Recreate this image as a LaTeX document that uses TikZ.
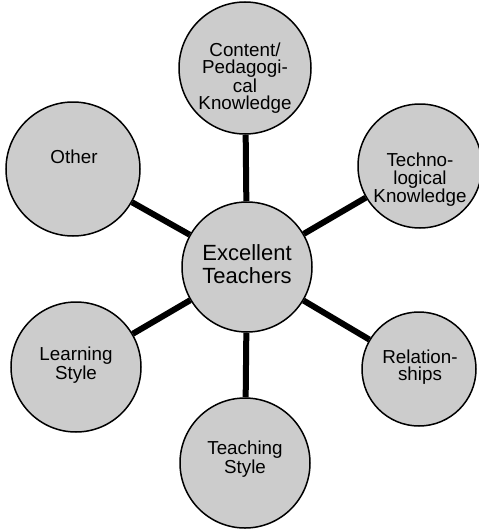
\documentclass[tikz,border=0pt]{standalone}
\usepackage{fontspec}
\setmainfont{Liberation Sans}
\begin{document}
\begin{tikzpicture}[x=1pt,y=-1pt,
  bubble/.style={circle,draw=black,line width=1.5pt,fill=gray!40,inner sep=0pt},
  lbl/.style={align=center,font=\fontsize{18.8}{17.5}\selectfont,inner sep=0pt},
  biglbl/.style={align=center,font=\fontsize{22}{23}\selectfont,inner sep=0pt},
  spoke/.style={line width=6pt,black}]
\useasboundingbox (0,0) rectangle (479,530);
% circles
\node[bubble,minimum size=130pt] (c) at (247,267) {};
\node[bubble,minimum size=132pt] (top) at (245,68) {};
\node[bubble,minimum size=124pt] (tech) at (420,166) {};
\node[bubble,minimum size=114pt] (rel) at (419,369) {};
\node[bubble,minimum size=130pt] (teach) at (245,463) {};
\node[bubble,minimum size=130pt] (learn) at (76,367) {};
\node[bubble,minimum size=134pt] (other) at (73,169) {};
% spokes
\draw[spoke] (c) -- (top);
\draw[spoke] (c) -- (tech);
\draw[spoke] (c) -- (rel);
\draw[spoke] (c) -- (teach);
\draw[spoke] (c) -- (learn);
\draw[spoke] (c) -- (other);
% labels
\node[biglbl] (tc) at (247,264) {Excellent\\Teachers};
\node[lbl] (ttop) at (245,78) {Content/\\Pedagogi-\\cal\\Knowledge};
\node[lbl] (ttech) at (420,180) {Techno-\\logical\\Knowledge};
\node[lbl] (trel) at (420,367) {Relation-\\ships};
\node[lbl] (tteach) at (245,459) {Teaching\\Style};
\node[lbl] (tlearn) at (76,365) {Learning\\Style};
\node[lbl] (tother) at (74,157) {Other};
\end{tikzpicture}
\end{document}
